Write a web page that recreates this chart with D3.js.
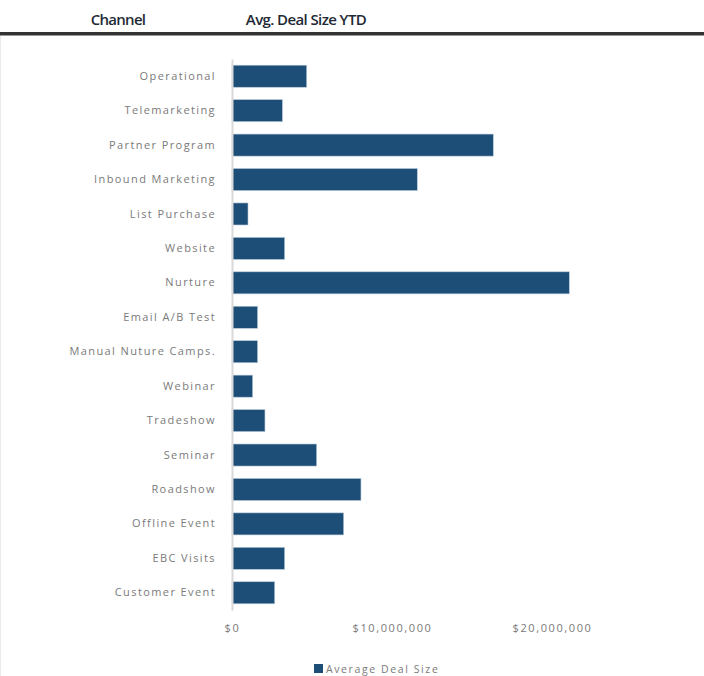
<!DOCTYPE html>
<html>
<head>
<meta charset="utf-8">
<script src="https://cdn.jsdelivr.net/npm/d3@7"></script>
<style>
  html, body { margin: 0; padding: 0; background: #fff; }
  svg { display: block; }
</style>
</head>
<body>
<svg id="chart" width="704" height="676"></svg>
<script>
const categories = [
  "Operational", "Telemarketing", "Partner Program", "Inbound Marketing",
  "List Purchase", "Website", "Nurture", "Email A/B Test",
  "Manual Nuture Camps.", "Webinar", "Tradeshow", "Seminar",
  "Roadshow", "Offline Event", "EBC Visits", "Customer Event"
];
const values = [
  4670000, 3150000, 16330000, 11580000,
  1000000, 3290000, 21080000, 1600000,
  1600000, 1290000, 2060000, 5290000,
  8060000, 6980000, 3290000, 2670000
];
const tickValues = [0, 10000000, 20000000];
const tickLabels = ["$0", "$10,000,000", "$20,000,000"];
const headers = ["Channel", "Avg. Deal Size YTD"];
const seriesName = "Average Deal Size";

const svg = d3.select("#chart");
const color = "#1c4e78";
const font = "'Open Sans', 'Liberation Sans', sans-serif";
const labelColor = "#7a7a7a";

// header
svg.append("text").attr("x", 118).attr("y", 25).attr("text-anchor", "middle")
  .attr("font-family", "'Open Sans', sans-serif").attr("font-size", 15).attr("font-weight", 600)
  .attr("fill", "#1f2a36").attr("letter-spacing", -0.7).text(headers[0]);
svg.append("text").attr("x", 306).attr("y", 25).attr("text-anchor", "middle")
  .attr("font-family", "'Open Sans', sans-serif").attr("font-size", 15).attr("font-weight", 600)
  .attr("fill", "#1f2a36").attr("letter-spacing", -0.6).text(headers[1]);
svg.append("rect").attr("x", 0).attr("y", 32).attr("width", 704).attr("height", 3).attr("fill", "#333");
svg.append("rect").attr("x", 0).attr("y", 35).attr("width", 704).attr("height", 1).attr("fill", "#999");
svg.append("line").attr("x1", 0.5).attr("x2", 0.5).attr("y1", 36).attr("y2", 676)
  .attr("stroke", "#ebebeb");

// scales
const x = d3.scaleLinear().domain([0, 20000000]).range([232, 552]);
const y = d3.scaleBand().domain(categories).range([59, 610]).paddingInner(0.36).paddingOuter(0.18);

// bars
svg.append("g").selectAll("rect").data(categories).join("rect")
  .attr("x", x(0))
  .attr("y", (d) => y(d))
  .attr("width", (d, i) => x(values[i]) - x(0))
  .attr("height", y.bandwidth())
  .attr("fill", color)
  .attr("stroke", "#b8c8d8").attr("stroke-width", 0.6);

// y axis
const yAxis = d3.axisLeft(y).tickSize(0).tickPadding(16);
const gy = svg.append("g").attr("transform", `translate(${x(0)},0)`).call(yAxis);
gy.select(".domain").attr("stroke", "#d9d9d9").attr("stroke-width", 2);
gy.selectAll("text").attr("font-family", font).attr("font-size", 11)
  .attr("fill", labelColor).attr("letter-spacing", 1.4);

// x axis (labels only)
const xAxis = d3.axisBottom(x).tickValues(tickValues)
  .tickFormat((d, i) => tickLabels[i]).tickSize(0).tickPadding(0);
const gx = svg.append("g").attr("transform", "translate(0,624)").call(xAxis);
gx.select(".domain").remove();
gx.selectAll("text").attr("font-family", font).attr("font-size", 11)
  .attr("fill", labelColor).attr("letter-spacing", 1.6);

// legend
svg.append("rect").attr("x", 314).attr("y", 664).attr("width", 9).attr("height", 9).attr("fill", color);
svg.append("text").attr("x", 326).attr("y", 673).attr("font-family", font).attr("font-size", 10.5)
  .attr("fill", labelColor).attr("letter-spacing", 1.6).text(seriesName);
</script>
</body>
</html>
